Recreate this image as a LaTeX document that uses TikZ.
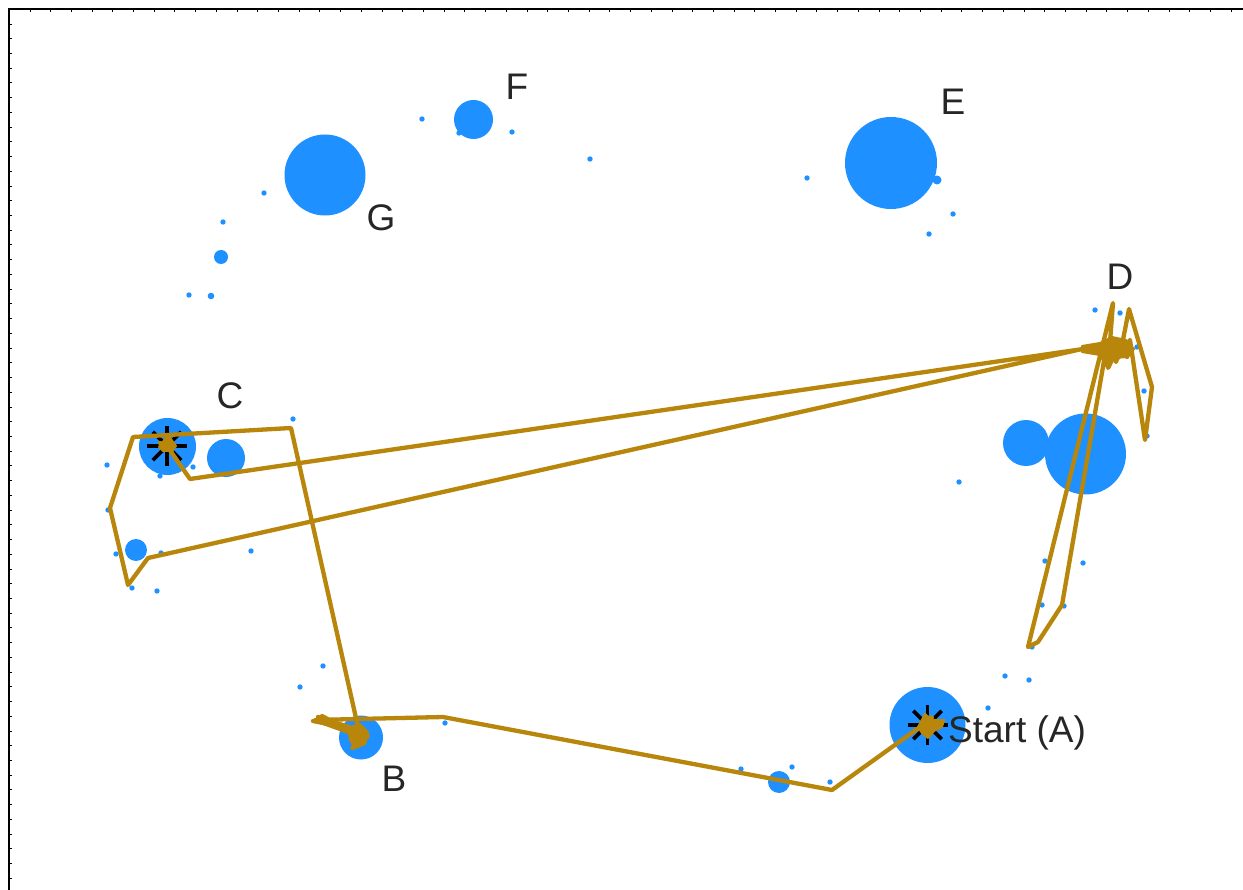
\documentclass[tikz,border=0pt]{standalone}
\usepackage{fontspec}
\setmainfont{Liberation Sans}
\usetikzlibrary{calc}
\definecolor{dblue}{HTML}{1E90FF}
\definecolor{gold}{HTML}{B8860B}
\definecolor{txt}{HTML}{262626}
\tikzset{
  dot/.style={fill=dblue},
  walk/.style={draw=gold, line width=4.3pt, line join=round, line cap=round},
  blob/.style={fill=gold, draw=gold, line width=2pt, line join=round},
  lbl/.style={text=txt, font=\fontsize{37}{42}\selectfont, inner sep=0pt},
  spoke/.style={draw=black, line width=3.6pt},
  tick/.style={draw=black, line width=1pt}
}
\begin{document}
\begin{tikzpicture}[x=1pt,y=-1pt]
\useasboundingbox (0,0) rectangle (1243,890);
\fill[white] (0,0) rectangle (1243,890);
% frame
\draw[line width=1.6pt] (8.8,890) -- (8.8,9.3) -- (1243,9.3);
\foreach \k in {1,...,60} {\draw[tick] (8.8,9.3+14.73*\k) -- (11.5,9.3+14.73*\k);}
\foreach \k in {1,...,59} {\draw[tick] (9.3+20.71*\k,9.3) -- (9.3+20.71*\k,12);}
% big circles
\fill[dot] (325,175) circle (40.5);
\fill[dot] (473.5,119.5) circle (19.5);
\fill[dot] (891,163) circle (46);
\fill[dot] (937,180) circle (4.5);
\fill[dot] (1026,443) circle (23);
\fill[dot] (1085.5,454) circle (40.5);
\fill[dot] (167.5,446.5) circle (28.5);
\fill[dot] (226,458) circle (19);
\fill[dot] (136,550) circle (11);
\fill[dot] (361,737.5) circle (22);
\fill[dot] (927.5,725) circle (38);
\fill[dot] (779,782) circle (11);
\fill[dot] (221,257) circle (7);
\fill[dot] (211,296) circle (3.3);
% small dots
\foreach \p in {(422,119),(512,132),(590,159),(264,193),(223,222),(189,295),(459,133),
  (807,178),(953,214),(929,234),
  (1095,310),(1120,313),(1137,347),(1144,391),(1147,436),
  (1045,561),(1083,563),(1042,605),(1064,606),(1032,647),(1005,676),(1029,680),(988,708),(959,482),
  (293,419),(107,465),(193,467),(160,476),(108,510),(116,554),(161,553),(251,551),(132,588),(157,591),
  (300,687),(323,666),(445,723),(741,769),(792,767),(830,782)}
  {\fill[dot] \p circle (2.7);}
% star markers
\coordinate (sa) at (927.5,725);
\coordinate (sc) at (167,446);
\foreach \a in {0,45,...,315} {
  \draw[spoke] ($(sa)+(\a:5)$) -- ($(sa)+(\a:20)$);
  \draw[spoke] ($(sc)+(\a:5)$) -- ($(sc)+(\a:20)$);
}
% walk
\draw[walk] (927,725) -- (935,721) -- (942,722) -- (925,731) -- (932,717) -- (920,727) -- (832,790)
  -- (443,717) -- (315,720) -- (357,735) -- (322,716) -- (365,742) -- (352,748) -- (368,736)
  -- (350,730) -- (358,727) -- (291,428) -- (133,437) -- (110,508) -- (128,585) -- (148,558)
  -- (1082,349) -- (1125,352) -- (1100,347) -- (1132,350) -- (1110,356) -- (1120,344)
  -- (1108,368) -- (1113,303) -- (1028,647) -- (1038,642) -- (1062,605) -- (1105,355)
  -- (1122,345) -- (1129,309) -- (1152,387) -- (1145,440) -- (1130,340) -- (1118,358)
  -- (1090,348) -- (190,479) -- (167,446) -- (160,443) -- (172,450) -- (167,446);
% jitter blobs
\filldraw[blob] (918,727) -- (925,714) -- (932,720) -- (944,720) -- (942,727) -- (934,731) -- (928,738) -- (922,733) -- cycle;
\filldraw[blob] (348,728) -- (360,724) -- (368,732) -- (365,744) -- (355,748) -- (350,740) -- cycle;
\draw[walk] (313,721) -- (358,730) -- (318,717) -- (352,733);
\filldraw[blob] (159,447) -- (168,435) -- (176,446) -- (172,451) -- (163,451) -- cycle;
\filldraw[blob] (1082,346) -- (1100,343) -- (1112,337) -- (1126,340) -- (1134,349) -- (1128,357) -- (1112,358) -- (1106,366) -- (1100,355) -- (1082,352) -- cycle;
\draw[walk] (1100,350) -- (1106,364) -- (1112,348) -- (1116,362) -- (1122,344) -- (1127,357);
% labels
\node[lbl, anchor=base] (lF) at (517,100) {F};
\node[lbl, anchor=base] (lE) at (953,115) {E};
\node[lbl, anchor=base] (lG) at (381,231) {G};
\node[lbl, anchor=base] (lD) at (1120,290) {D};
\node[lbl, anchor=base] (lC) at (230,409) {C};
\node[lbl, anchor=base] (lB) at (394,791) {B};
\node[lbl, anchor=base west] (lA) at (948,742) {Start (A)};
\end{tikzpicture}
\end{document}
